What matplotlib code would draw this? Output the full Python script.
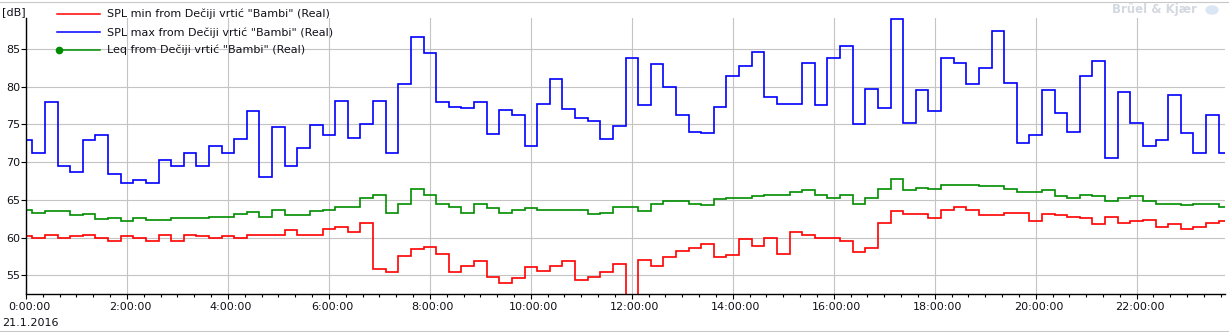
import matplotlib
matplotlib.use('Agg')
import matplotlib.pyplot as plt
from matplotlib.lines import Line2D
from matplotlib.patches import Ellipse
from matplotlib.transforms import ScaledTranslation

# 15 min intervals, the first one is partial (0:00 - 0:07:30)
edges_h = [0.0] + [0.125 + 0.25 * k for k in range(96)]

spl_max = [73.0, 71.2, 78.0, 69.5, 68.7, 72.9, 73.6, 68.4, 67.3, 67.6, 67.2, 70.3,
           69.5, 71.2, 69.5, 72.1, 71.2, 73.1, 76.8, 68.0, 74.7, 69.5, 71.9, 74.9,
           73.6, 78.1, 73.2, 75.1, 78.1, 71.2, 80.4, 86.6, 84.5, 78.0, 77.3, 77.2,
           78.0, 73.7, 76.9, 76.3, 72.2, 77.7, 81.0, 77.1, 75.8, 75.5, 73.1, 74.8,
           83.8, 77.6, 83.0, 80.0, 76.3, 74.0, 73.9, 77.3, 81.4, 82.8, 84.6, 78.7,
           77.7, 77.7, 83.2, 77.6, 83.8, 85.4, 75.1, 79.7, 77.2, 89.0, 75.2, 79.6,
           76.8, 83.8, 83.2, 80.4, 82.5, 87.4, 80.5, 72.5, 73.6, 79.6, 76.5, 74.0,
           81.4, 83.4, 70.5, 79.3, 75.2, 72.2, 72.9, 78.9, 73.9, 71.2, 76.2, 71.2]

leq = [63.7, 63.3, 63.5, 63.5, 63.0, 63.2, 62.5, 62.6, 62.2, 62.6, 62.4, 62.3,
       62.6, 62.6, 62.6, 62.7, 62.7, 63.1, 63.4, 62.7, 63.7, 62.95, 62.95, 63.6,
       63.7, 64.1, 64.1, 65.3, 65.6, 63.3, 64.5, 66.4, 65.6, 64.5, 64.1, 63.3,
       64.5, 63.9, 63.3, 63.7, 63.9, 63.7, 63.7, 63.7, 63.7, 63.1, 63.3, 64.0,
       64.0, 63.6, 64.4, 64.9, 64.9, 64.5, 64.3, 65.1, 65.2, 65.3, 65.5, 65.7,
       65.6, 66.0, 66.25, 65.7, 65.3, 65.7, 64.5, 65.2, 66.4, 67.8, 66.25, 66.6,
       66.4, 67.0, 67.0, 67.0, 66.9, 66.9, 66.4, 66.1, 66.1, 66.25, 65.5, 65.3,
       65.6, 65.5, 64.9, 65.2, 65.5, 64.9, 64.5, 64.5, 64.3, 64.4, 64.5, 64.1]

spl_min = [60.2, 60.0, 60.4, 60.0, 60.2, 60.3, 60.0, 59.5, 60.2, 59.9, 59.5, 60.3,
           59.6, 60.4, 60.2, 59.9, 60.2, 60.0, 60.3, 60.3, 60.3, 61.0, 60.4, 60.4,
           61.1, 61.4, 60.8, 62.0, 55.9, 55.4, 57.6, 58.5, 58.7, 57.8, 55.4, 56.3,
           56.9, 54.8, 54.0, 54.6, 56.1, 55.55, 56.3, 56.9, 54.4, 54.8, 55.4, 56.5,
           50.0, 57.0, 56.2, 57.5, 58.2, 58.6, 59.1, 57.4, 57.7, 59.8, 58.9, 59.9,
           57.9, 60.8, 60.4, 59.9, 59.9, 59.6, 58.1, 58.6, 62.0, 63.5, 63.2, 63.2,
           62.55, 63.7, 64.0, 63.7, 62.95, 62.95, 63.3, 63.3, 62.2, 63.1, 62.95, 62.7,
           62.55, 61.8, 62.7, 61.9, 62.2, 62.4, 61.4, 61.8, 61.1, 61.4, 62.0, 62.2]

tick_hours = [0, 2, 4, 6, 8, 10, 12, 14, 16, 18, 20, 22]
tick_labels = ['0:00:00', '2:00:00', '4:00:00', '6:00:00', '8:00:00', '10:00:00',
               '12:00:00', '14:00:00', '16:00:00', '18:00:00', '20:00:00', '22:00:00']
db_ticks = [55, 60, 65, 70, 75, 80, 85]

series_names = ['SPL min from Dečiji vrtić "Bambi" (Real)',
                'SPL max from Dečiji vrtić "Bambi" (Real)',
                'Leq from Dečiji vrtić "Bambi" (Real)']
colors = ['#ff0000', '#0000ff', '#008c00']
txt = '#101018'

W, H = 1229, 332
fig = plt.figure(figsize=(W / 100, H / 100), dpi=100)
ax = fig.add_axes([26 / W, 1 - 294.3 / H, (1225 - 26) / W, (294.3 - 18) / H])

ax.stairs(spl_min, edges_h, baseline=None, color=colors[0], lw=1.2)
ax.stairs(spl_max, edges_h, baseline=None, color=colors[1], lw=1.2)
ax.stairs(leq, edges_h, baseline=None, color=colors[2], lw=1.2)

ax.set_xlim(0, 23.75)
ax.set_ylim(52.5, 89.1)
ax.set_xticks(tick_hours, tick_labels)
ax.set_xticks([m / 3 for m in range(72)], minor=True)
ax.set_yticks(db_ticks)
ax.grid(True, which='major', color='#c4c4c4', lw=0.8)
ax.set_axisbelow(True)
for s in ['top', 'right']:
    ax.spines[s].set_visible(False)
for s in ['left', 'bottom']:
    ax.spines[s].set_color('#000000')
    ax.spines[s].set_linewidth(1.0)
ax.tick_params(axis='x', which='major', length=3.6, width=0.8, pad=2,
               labelsize=8, labelcolor=txt, direction='out')
ax.tick_params(axis='x', which='minor', length=2, width=0.8, direction='out')
ax.tick_params(axis='y', length=3.3, width=0.8, pad=1, labelsize=8, labelcolor=txt)
for lab in ax.get_xticklabels():
    lab.set_transform(lab.get_transform() + ScaledTranslation(0.03, 0, fig.dpi_scale_trans))

fig.text(2 / W, 1 - 12 / H, '[dB]', fontsize=8, color=txt, va='center', ha='left')
fig.text(2 / W, 1 - 323 / H, '21.1.2016', fontsize=8, color=txt, va='center', ha='left')

# legend drawn by hand (marker only at the left end of the Leq sample)
rows_y = [14, 32.3, 50]
for name, c, y in zip(series_names, colors, rows_y):
    fy = 1 - y / H
    fig.add_artist(Line2D([57 / W, 100 / W], [fy, fy], color=c, lw=1.1,
                          transform=fig.transFigure))
    fig.text(107 / W, fy, name, fontsize=8, color=txt, va='center', ha='left')
fig.add_artist(Line2D([59 / W], [1 - rows_y[2] / H], color=colors[2], marker='o',
                      ms=4.5, transform=fig.transFigure))

# watermark
fig.text(1197 / W, 1 - 10 / H, 'Brüel & Kjær', fontsize=8.5, fontweight='bold',
         color='#d3d8e0', va='center', ha='right')
fig.add_artist(Ellipse((1212 / W, 1 - 10 / H), 12 / W, 8 / H, color='#dbe6f5',
                       transform=fig.transFigure))

# thin frame around the picture
fig.add_artist(Line2D([0, 1], [1 - 1.5 / H, 1 - 1.5 / H], color='#c8c8c8', lw=0.8,
                      transform=fig.transFigure))
fig.add_artist(Line2D([0, 1], [1.5 / H, 1.5 / H], color='#c8c8c8', lw=0.8,
                      transform=fig.transFigure))

fig.savefig('out.png', dpi=100)
